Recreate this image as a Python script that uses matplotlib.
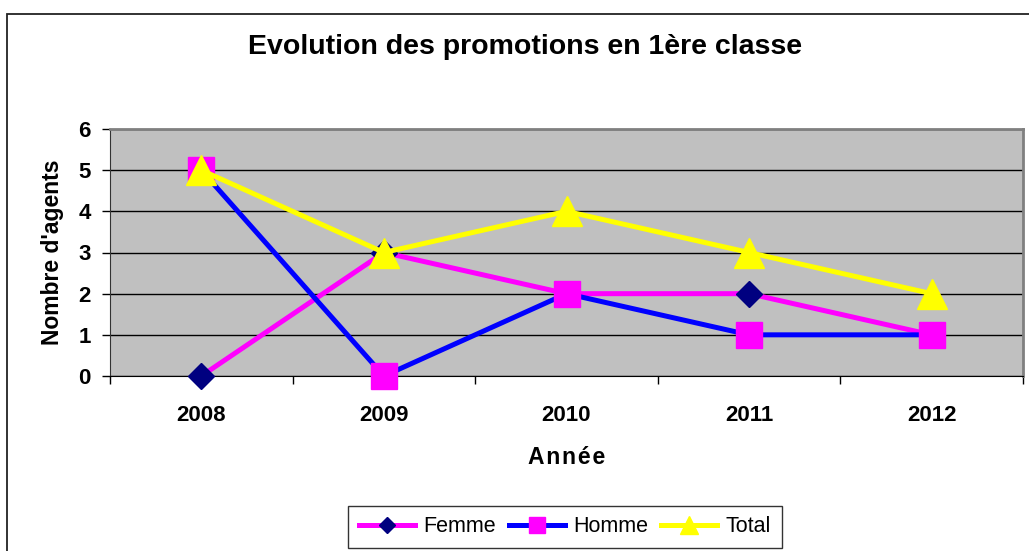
import numpy as np
import matplotlib
matplotlib.use("Agg")
import matplotlib.pyplot as plt
from matplotlib.patches import Rectangle

plt.rcParams['font.family'] = ['Liberation Sans', 'DejaVu Sans']

# data
years = ['2008', '2009', '2010', '2011', '2012']
femme = [0, 3, 2, 2, 1]
homme = [5, 0, 2, 1, 1]
total = [5, 3, 4, 3, 2]

W, H = 1029, 551
fig = plt.figure(figsize=(W / 100, H / 100), dpi=100)

# outer chart frame (runs off the right and bottom edges)
fig.patches.append(Rectangle((7 / W, -0.1), 2, (H - 14) / H + 0.1,
                             transform=fig.transFigure, fill=False,
                             ec='#222222', lw=1.3, zorder=0))

ax = fig.add_axes([110 / W, (H - 376) / H, 913 / W, 247 / H])
ax.set_facecolor('#C0C0C0')

x = np.arange(len(years))
ax.plot(x, femme, color='#FF00FF', lw=3.6, marker='D', ms=13.5,
        mfc='#000080', mec='#000080', label='Femme', zorder=3, clip_on=False)
ax.plot(x, homme, color='#0000FF', lw=3.6, marker='s', ms=18.5,
        mfc='#FF00FF', mec='#FF00FF', label='Homme', zorder=4, clip_on=False)
ax.plot(x, total, color='#FFFF00', lw=3.6, marker='^', ms=21,
        mfc='#FFFF00', mec='#FFFF00', label='Total', zorder=5, clip_on=False)

ax.set_xlim(-0.5, len(years) - 0.5)
ax.set_ylim(0, 6)
ax.set_yticks(range(0, 7))
ax.yaxis.grid(True, color='black', lw=1)
ax.set_axisbelow(True)

ax.set_xticks(x)
ax.set_xticklabels(years)
ax.set_xticks(np.arange(-0.5, len(years)), minor=True)
ax.tick_params(axis='x', which='major', length=0, pad=21)
ax.tick_params(axis='x', which='minor', length=6, width=1, direction='out')
ax.tick_params(axis='y', length=6, width=1, direction='out', pad=8)
for lab in ax.get_xticklabels() + ax.get_yticklabels():
    lab.set_fontsize(16)
    lab.set_fontweight('bold')

for side in ['top', 'right']:
    ax.spines[side].set_color('#808080')
    ax.spines[side].set_linewidth(2)
ax.spines['left'].set_color('#333333')
ax.spines['bottom'].set_color('black')

ax.set_ylabel("Nombre d'agents", fontsize=16.5, fontweight='bold', labelpad=10)
ax.set_xlabel('\u200a'.join("Année"), fontsize=16.5,
              fontweight='bold', labelpad=14)

fig.text(525 / W, 1 - 47 / H, 'Evolution des promotions en 1ère classe',
         ha='center', va='center', fontsize=20.5, fontweight='bold')

leg = ax.legend(loc='center', bbox_to_anchor=(565 / W, 1 - 527 / H),
                bbox_transform=fig.transFigure, ncol=3, fontsize=15.5,
                frameon=True, fancybox=False, edgecolor='black',
                handlelength=2.6, handletextpad=0.4, columnspacing=0.6,
                borderpad=0.5, markerscale=0.6)
leg.get_frame().set_linewidth(1)

fig.savefig('out.png', dpi=100)
